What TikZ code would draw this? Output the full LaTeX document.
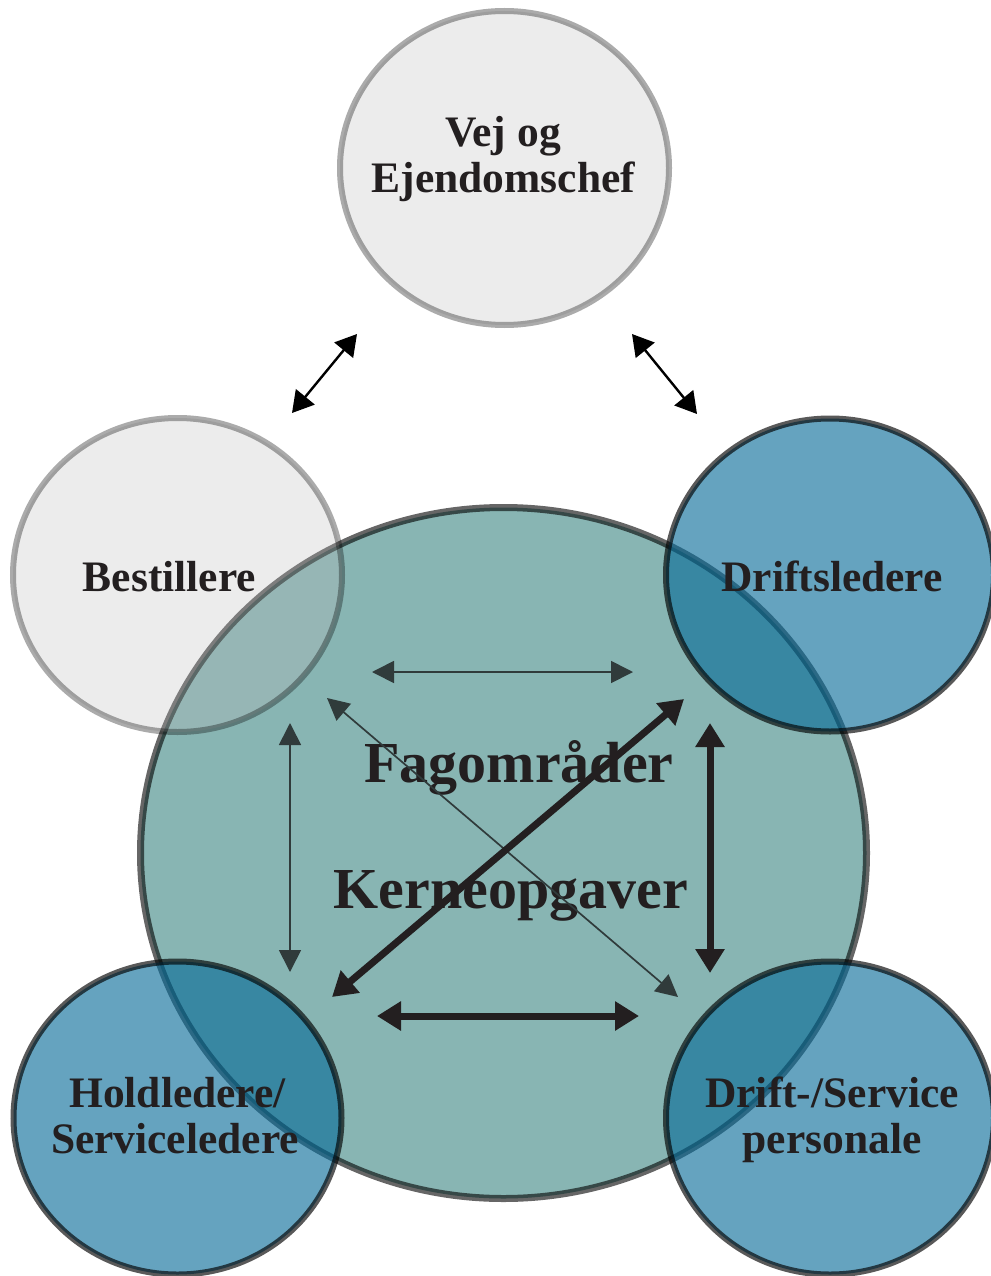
\documentclass[tikz,border=0pt]{standalone}
\usepackage{fontspec}
\setmainfont{Liberation Serif}
\usetikzlibrary{arrows.meta,shapes.geometric}
\definecolor{tealfill}{HTML}{88B5B3}
\definecolor{grayfill}{HTML}{BBBBBB}
\definecolor{bluefill}{RGB}{7,107,153}
\definecolor{txtcol}{HTML}{231F20}
\definecolor{thincol}{HTML}{303B3B}
\begin{document}
\begin{tikzpicture}[x=1pt,y=-1pt,
  bigcirc/.style={ellipse, inner sep=0pt, minimum width=726pt, minimum height=691pt,
    fill=tealfill, draw=black, draw opacity=0.6, line width=7pt},
  graycirc/.style={ellipse, inner sep=0pt, minimum width=329pt, minimum height=314pt,
    fill=grayfill, fill opacity=0.28, draw=black, draw opacity=0.33, line width=6pt},
  bluecirc/.style={ellipse, inner sep=0pt, minimum width=328pt, minimum height=313pt,
    fill=bluefill, fill opacity=0.62, draw=black, draw opacity=0.65, line width=6pt},
  lbl/.style={font=\bfseries\fontsize{43.5}{46}\selectfont, text=txtcol, anchor=base, inner sep=0pt},
  biglbl/.style={font=\bfseries\fontsize{58}{60}\selectfont, text=txtcol, anchor=base, inner sep=0pt},
  toparr/.style={draw=black, line width=2.4pt,
    {Triangle[length=21pt,width=24pt]}-{Triangle[length=21pt,width=24pt]}},
  thinarr/.style={draw=thincol, line width=1.7pt,
    {Triangle[length=22pt,width=22pt]}-{Triangle[length=22pt,width=22pt]}},
  thickarr/.style={draw=txtcol, line width=7pt,
    {Triangle[length=24pt,width=28pt]}-{Triangle[length=24pt,width=28pt]}}
]
\useasboundingbox (0,0) rectangle (990,1276);
\fill[white] (0,0) rectangle (990,1276);

% circles
\node[bigcirc] (big) at (503.5,853) {};
\node[graycirc] (vej) at (504.5,168) {};
\node[graycirc] (best) at (177.5,575) {};
\node[bluecirc] (drift) at (830,575) {};
\node[bluecirc] (hold) at (177.5,1118) {};
\node[bluecirc] (pers) at (830,1118) {};

% labels
\node[lbl] (t1a) at (503,147) {Vej og};
\node[lbl] (t1b) at (503.5,193) {Ejendomschef};
\node[lbl] (t2) at (169.5,591) {Bestillere};
\node[lbl] (t3) at (832,591) {Driftsledere};
\node[lbl] (t4a) at (177.5,1107) {Holdledere/};
\node[lbl] (t4b) at (175,1153) {Serviceledere};
\node[lbl] (t5a) at (832,1107) {Drift-/Service};
\node[lbl] (t5b) at (832,1153) {personale};
\node[biglbl] (f1) at (519,782) {Fagområder};
\node[biglbl] (f2) at (511,908) {Kerneopgaver};

% arrow end points
\coordinate (a1s) at (292,413); \coordinate (a1e) at (357,334);
\coordinate (a2s) at (632,334); \coordinate (a2e) at (697,414);
\coordinate (b1s) at (372,672); \coordinate (b1e) at (633,672);
\coordinate (b2s) at (327,698); \coordinate (b2e) at (678,997);
\coordinate (b3s) at (290,723); \coordinate (b3e) at (290,972);
\coordinate (c1s) at (332,997); \coordinate (c1e) at (684,699);
\coordinate (c2s) at (710,723); \coordinate (c2e) at (710,973);
\coordinate (c3s) at (377,1016); \coordinate (c3e) at (639,1016);

\draw[toparr] (a1s) -- (a1e);
\draw[toparr] (a2s) -- (a2e);
\draw[thinarr] (b1s) -- (b1e);
\draw[thinarr] (b2s) -- (b2e);
\draw[thinarr] (b3s) -- (b3e);
\draw[thickarr] (c1s) -- (c1e);
\draw[thickarr] (c2s) -- (c2e);
\draw[thickarr] (c3s) -- (c3e);
\end{tikzpicture}
\end{document}
